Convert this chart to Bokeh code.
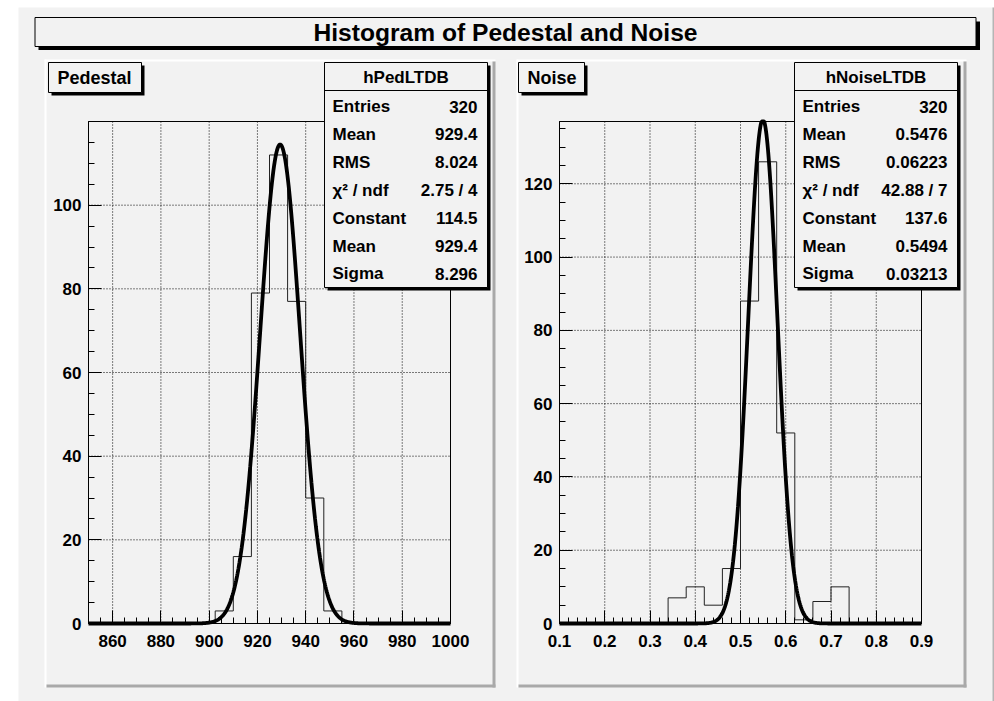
import numpy as np
from bokeh.plotting import figure
from bokeh.models import Range1d, FixedTicker, LinearAxis
from bokeh.core.properties import value
from bokeh.embed import file_html
from bokeh.resources import INLINE

# ---------------- data ----------------
title_text = "Histogram of Pedestal and Noise"

ped_pad_title = "Pedestal"
ped_hist_name = "hPedLTDB"
ped_x_lo, ped_x_hi = 850.0, 1000.0
ped_counts = [0, 0, 0, 0, 0, 0, 0, 3, 16, 79, 112, 77, 30, 3, 0, 0, 0, 0, 0, 0]
ped_y_max = 120.0
ped_stat_labels = ["Entries", "Mean", "RMS", "χ² / ndf", "Constant", "Mean", "Sigma"]
ped_stat_values = ["320", "929.4", "8.024", "2.75 / 4", "114.5", "929.4", "8.296"]
ped_fit_constant, ped_fit_mean, ped_fit_sigma = 114.5, 929.4, 8.296
ped_xticks = [860, 880, 900, 920, 940, 960, 980, 1000]
ped_yticks = [0, 20, 40, 60, 80, 100]

noise_pad_title = "Noise"
noise_hist_name = "hNoiseLTDB"
noise_x_lo, noise_x_hi = 0.1, 0.9
noise_counts = [0, 0, 0, 0, 0, 0, 7, 10, 5, 15, 88, 126, 52, 1, 6, 10, 0, 0, 0, 0]
noise_y_max = 137.0
noise_stat_labels = ["Entries", "Mean", "RMS", "χ² / ndf", "Constant", "Mean", "Sigma"]
noise_stat_values = ["320", "0.5476", "0.06223", "42.88 / 7", "137.6", "0.5494", "0.03213"]
noise_fit_constant, noise_fit_mean, noise_fit_sigma = 137.6, 0.5494, 0.03213
noise_xticks = [0.1, 0.2, 0.3, 0.4, 0.5, 0.6, 0.7, 0.8, 0.9]
noise_yticks = [0, 20, 40, 60, 80, 100, 120]

# ---------------- style ----------------
CANVAS = "#f2f2f2"
SHADOW = "#a9a9a9"
EDGE = "#b5b5b5"
FONT = "Liberation Sans"
W, H = 994, 701

p = figure(width=W, height=H, output_backend="svg", toolbar_location=None,
           x_range=Range1d(0, W), y_range=Range1d(H, 0),
           x_axis_type=None, y_axis_type=None, min_border=0)
p.outline_line_color = None
p.background_fill_color = "white"
p.border_fill_color = "white"
p.grid.visible = False


def box(l, r, t, b, fill, line=None, lw=1):
    p.quad(left=[l], right=[r], top=[t], bottom=[b], fill_color=fill,
           line_color=line, line_width=lw)


def txt(x, y, s, size, align="left"):
    p.text(x=[x], y=[y], text=[s], text_font=value(FONT), text_font_style="bold",
           text_font_size=size, text_align=align, text_baseline="middle",
           text_color="black")


def xrange_for(d0, p0, d1, p1):
    k = (d1 - d0) / (p1 - p0)
    return Range1d(d0 - p0 * k, d0 + (W - p0) * k)


def yrange_for(d0, p0, d1, p1):
    q0, q1 = H - p0, H - p1
    k = (d1 - d0) / (q1 - q0)
    return Range1d(d0 - q0 * k, d0 + (H - q0) * k)


# canvas
box(18, W, 7, H, CANVAS)
box(992, W, 7, H, EDGE)

# title
box(38, 979.5, 21, 49.5, "black")
box(34.5, 975.5, 17, 46, CANVAS, "black")
txt(505, 31.5, title_text, "24.6px", "center")


def panel(name, frame, xr, yr, xticks, xminor, yticks, yminor, counts, fit,
          pad, tbox, pad_title, sbox, hist_name, stat_labels, stat_values):
    fl, fr, ft, fb = frame
    xn, yn = name + "_x", name + "_y"
    p.extra_x_ranges[xn] = xrange_for(xr[0], fl, xr[1], fr)
    p.extra_y_ranges[yn] = yrange_for(yr[0], fb, yr[1], ft)

    # pad bevel
    pl, pr, pt, pb = pad
    box(pl, pr, pt, pt + 2, "white")
    box(pl, pl + 2, pt, pb, "white")
    box(pr - 3, pr, pt + 2, pb, SHADOW)
    box(pl + 2, pr, pb - 3, pb, SHADOW)

    # pad title box
    tl, tr, tt, tb = tbox
    box(tl + 3, tr + 3, tt + 3, tb + 3, "black")
    box(tl, tr, tt, tb, CANVAS, "black")
    txt(tl + 9, (tt + tb) / 2, pad_title, "18px")

    kw = dict(x_range_name=xn, y_range_name=yn)
    # grid
    p.segment(x0=xticks, x1=xticks, y0=[yr[0]] * len(xticks), y1=[yr[1]] * len(xticks),
              line_color="black", line_dash="1 2", line_width=1, **kw)
    p.segment(x0=[xr[0]] * len(yticks), x1=[xr[1]] * len(yticks), y0=yticks, y1=yticks,
              line_color="black", line_dash="1 2", line_width=1, **kw)
    # frame
    p.quad(left=[xr[0]], right=[xr[1]], bottom=[yr[0]], top=[yr[1]],
           fill_color=None, line_color="black", line_width=1, **kw)

    # histogram outline
    edges = np.linspace(xr[0], xr[1], len(counts) + 1)
    p.step(x=edges, y=list(counts) + [0], mode="after", line_color="#222222",
           line_width=1, **kw)

    # gaussian fit from displayed parameters
    c, m, s = fit
    xs = np.linspace(xr[0], xr[1], 800)
    ys = np.minimum(c * np.exp(-0.5 * ((xs - m) / s) ** 2), yr[1])
    p.line(xs, ys, line_color="black", line_width=3.8, **kw)

    # axes
    xa = LinearAxis(fixed_location=yr[0], bounds=xr, **kw)
    ya = LinearAxis(fixed_location=xr[0], bounds=yr, **kw)
    xa.ticker = FixedTicker(ticks=xticks, minor_ticks=xminor)
    ya.ticker = FixedTicker(ticks=yticks, minor_ticks=yminor)
    for ax in (xa, ya):
        ax.axis_line_color = "black"
        ax.major_tick_line_color = "black"
        ax.minor_tick_line_color = "black"
        ax.major_tick_in = 13
        ax.major_tick_out = 0
        ax.minor_tick_in = 6
        ax.minor_tick_out = 0
        ax.major_label_text_font = FONT
        ax.major_label_text_font_style = "bold"
        ax.major_label_text_font_size = "17px"
        ax.major_label_text_color = "black"
    xa.major_label_standoff = 11
    ya.major_label_standoff = 7
    p.add_layout(xa, "below")
    p.add_layout(ya, "left")

    # stats box
    sl, sr, st, sb = sbox
    box(sl + 3, sr + 3, st + 3, sb + 3, "black")
    box(sl, sr, st, sb, CANVAS, "black")
    box(sl, sr, 89.5, 90.5, "black")
    txt((sl + sr) / 2, 76.5, hist_name, "17px", "center")
    for i, (lab, val) in enumerate(zip(stat_labels, stat_values)):
        y = 106 + 27.9 * i
        txt(sl + 8, y, lab, "17px", "left")
        txt(sr - 10, y, val, "17px", "right")


panel("ped", frame=(88, 450, 121, 623),
      xr=(ped_x_lo, ped_x_hi), yr=(0.0, ped_y_max),
      xticks=ped_xticks, xminor=list(np.arange(850, 1001, 5)),
      yticks=ped_yticks, yminor=list(np.arange(0, 121, 5)),
      counts=ped_counts, fit=(ped_fit_constant, ped_fit_mean, ped_fit_sigma),
      pad=(44, 495, 59, 687), tbox=(48, 141, 62, 92), pad_title=ped_pad_title,
      sbox=(324, 487, 62, 287), hist_name=ped_hist_name,
      stat_labels=ped_stat_labels, stat_values=ped_stat_values)

panel("noise", frame=(559, 921, 121, 623),
      xr=(noise_x_lo, noise_x_hi), yr=(0.0, noise_y_max),
      xticks=noise_xticks, xminor=list(np.round(np.arange(0.1, 0.901, 0.02), 3)),
      yticks=noise_yticks, yminor=list(np.arange(0, 136, 5)),
      counts=noise_counts, fit=(noise_fit_constant, noise_fit_mean, noise_fit_sigma),
      pad=(516, 966, 59, 687), tbox=(518, 584, 62, 92), pad_title=noise_pad_title,
      sbox=(794, 957, 62, 287), hist_name=noise_hist_name,
      stat_labels=noise_stat_labels, stat_values=noise_stat_values)

open("out.html", "w").write(file_html(p, INLINE))
